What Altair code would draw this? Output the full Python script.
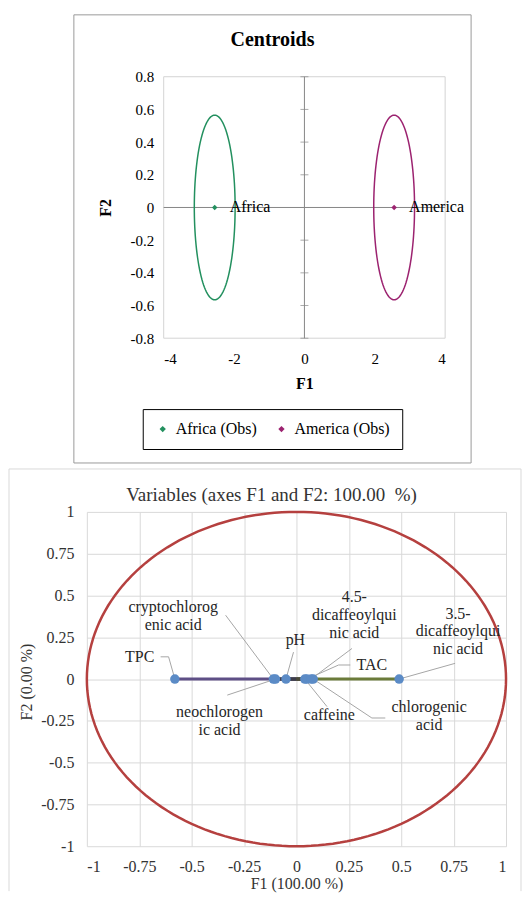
import altair as alt
import pandas as pd

SERIF = "Liberation Serif"

# ---------------- Top chart: Centroids ----------------
top_title = "Centroids"
groups = ["Africa", "America"]
group_legend = ["Africa (Obs)", "America (Obs)"]
centroid_f1 = [-2.55, 2.55]
centroid_f2 = [0.0, 0.0]
ellipse_rx = [0.58, 0.58]
ellipse_ry = [0.565, 0.565]
group_colors = ["#23905f", "#9c2370"]
top_x_ticks = [-4, -2, 0, 2, 4]
top_y_ticks = [-0.8, -0.6, -0.4, -0.2, 0, 0.2, 0.4, 0.6, 0.8]

# ---------------- Bottom chart: Variables ----------------
bottom_title = "Variables (axes F1 and F2: 100.00\u00a0 %)"
variables = ["TPC", "cryptochlorogenic acid", "neochlorogenic acid", "pH", "caffeine",
             "TAC", "4.5-dicaffeoylquinic acid", "chlorogenic acid", "3.5-dicaffeoylquinic acid"]
var_labels = ["TPC", "cryptochlorog\nenic acid", "neochlorogen\nic acid", "pH", "caffeine",
              "TAC", "4.5-\ndicaffeoylqui\nnic acid", "chlorogenic\nacid", "3.5-\ndicaffeoylqui\nnic acid"]
var_f1 = [-0.58, -0.11, -0.10, -0.05, 0.04, 0.05, 0.07, 0.08, 0.49]
var_f2 = [0, 0, 0, 0, 0, 0, 0, 0, 0]
label_f1 = [-0.748, -0.588, -0.367, -0.005, 0.157, 0.36, 0.276, 0.633, 0.771]
label_f2 = [0.133, 0.432, -0.195, 0.233, -0.215, 0.084, 0.491, -0.165, 0.392]
leader_f1 = [-0.648, -0.338, -0.33, -0.014, 0.146, 0.257, 0.265, 0.424, 0.757]
leader_f2 = [0.133, 0.382, -0.096, 0.161, -0.165, 0.084, 0.183, -0.233, 0.094]
elbow_f1 = [-0.61, -0.338, -0.33, -0.014, 0.146, 0.201, 0.265, 0.36, 0.757]
elbow_f2 = [0.133, 0.382, -0.096, 0.161, -0.165, 0.084, 0.183, -0.233, 0.094]
vector_colors = ["#5e4f86", "#3d3d4a", "#3d3d4a", "#3d3d4a", "#4a4a3a",
                 "#4a4a3a", "#4a4a3a", "#4a4a3a", "#6b7b3a"]
bottom_ticks = [-1, -0.75, -0.5, -0.25, 0, 0.25, 0.5, 0.75, 1]

one = alt.Data(values=[{"k": 1}])

# ================= TOP =================
cent = pd.DataFrame({"group": groups, "legend": group_legend,
                     "F1": centroid_f1, "F2": centroid_f2})

xs_t = alt.Scale(domain=[top_x_ticks[0], top_x_ticks[-1]], range=[77, 359], nice=False, zero=False)
ys_t = alt.Scale(domain=[top_y_ticks[0], top_y_ticks[-1]], nice=False, zero=False)

ax_t = alt.Axis(values=top_x_ticks, labelExpr="'' + datum.value", grid=False, ticks=False,
                domain=False, labelFont=SERIF, labelFontSize=15, labelColor="black",
                labelPadding=13, title="F1", titleFont=SERIF, titleFontSize=16,
                titleFontWeight="bold", titleColor="black", titleX=218, titleY=45,
                titleBaseline="middle", titleAlign="center")
ay_t = alt.Axis(values=top_y_ticks, labelExpr="'' + datum.value", grid=False, ticks=False,
                domain=False, offset=-77, labelFont=SERIF, labelFontSize=15,
                labelColor="black", labelPadding=10, title="F2", titleFont=SERIF,
                titleFontSize=16, titleFontWeight="bold", titleColor="black",
                titleX=-58, titleY=131, titleBaseline="middle", titleAlign="center")

def tx(field="F1:Q"):
    return alt.X(field, scale=xs_t, axis=ax_t)

def ty(field="F2:Q"):
    return alt.Y(field, scale=ys_t, axis=ay_t)

top_frame = alt.Chart(one).mark_rect(fillOpacity=0, stroke="#9a9a9a", strokeWidth=1).encode(
    x=alt.value(-13), x2=alt.value(385), y=alt.value(-62), y2=alt.value(387))

top_title_mark = alt.Chart(alt.Data(values=[{"t": top_title}])).mark_text(
    font=SERIF, fontSize=20, fontWeight="bold", color="black", align="center",
    baseline="alphabetic").encode(x=alt.value(186), y=alt.value(-31), text="t:N")

plot_border = alt.Chart(one).mark_rect(fillOpacity=0, stroke="#d4d4d4", strokeWidth=1).encode(
    x=alt.X(datum=top_x_ticks[0], scale=xs_t, axis=ax_t, type="quantitative"),
    x2=alt.datum(top_x_ticks[-1]),
    y=alt.Y(datum=top_y_ticks[0], scale=ys_t, axis=ay_t, type="quantitative"),
    y2=alt.datum(top_y_ticks[-1]))

zero_v = alt.Chart(one).mark_rule(color="#868686", strokeWidth=1).encode(
    x=alt.X(datum=0, scale=xs_t, axis=ax_t, type="quantitative"),
    y=alt.Y(datum=top_y_ticks[0], scale=ys_t, axis=ay_t, type="quantitative"),
    y2=alt.datum(top_y_ticks[-1]))
zero_h = alt.Chart(one).mark_rule(color="#868686", strokeWidth=1).encode(
    y=alt.Y(datum=0, scale=ys_t, axis=ay_t, type="quantitative"),
    x=alt.X(datum=top_x_ticks[0], scale=xs_t, axis=ax_t, type="quantitative"),
    x2=alt.datum(top_x_ticks[-1]))

zero_ticks = alt.Chart(pd.DataFrame({"v": top_y_ticks})).mark_tick(
    orient="horizontal", size=8, thickness=1, color="#868686").encode(
    x=alt.X(datum=0, scale=xs_t, axis=ax_t, type="quantitative"),
    y=ty("v:Q"))

ellipses = []
for cx, cy, rx, ry, col in zip(centroid_f1, centroid_f2, ellipse_rx, ellipse_ry, group_colors):
    ellipses.append(
        alt.Chart(alt.sequence(0, 361, 3, as_="t")).transform_calculate(
            F1=f"{cx} + {rx} * cos(datum.t * PI / 180)",
            F2=f"{cy} + {ry} * sin(datum.t * PI / 180)",
        ).mark_line(color=col, strokeWidth=1.5).encode(x=tx(), y=ty(), order="t:Q")
    )

cent_pts = alt.Chart(cent).mark_point(shape="diamond", filled=True, size=30, opacity=1).encode(
    x=tx(), y=ty(),
    color=alt.Color("legend:N",
                    scale=alt.Scale(domain=group_legend, range=group_colors),
                    legend=alt.Legend(orient="none", legendX=56, legendY=333,
                                      direction="horizontal", title=None,
                                      strokeColor="black", fillColor="white", padding=12,
                                      columnPadding=16, labelFont=SERIF, labelFontSize=16,
                                      labelColor="black", symbolType="diamond",
                                      symbolSize=40, labelOffset=5, labelLimit=300)))

cent_lbl = alt.Chart(cent).mark_text(align="left", baseline="middle", dx=15, font=SERIF,
                                     fontSize=16, color="black").encode(
    x=tx(), y=ty(), text="group:N")

top = alt.layer(top_frame, top_title_mark, plot_border, zero_h, zero_v, zero_ticks, *ellipses,
                cent_pts, cent_lbl).properties(width=359, height=262)

# ================= BOTTOM =================
vars_df = pd.DataFrame({"var": variables, "label": var_labels, "F1": var_f1, "F2": var_f2,
                        "lx": label_f1, "ly": label_f2, "ax": leader_f1, "ay": leader_f2,
                        "ex": elbow_f1, "ey": elbow_f2, "zero": [0] * len(variables)})

xs_b = alt.Scale(domain=[-1, 1], nice=False, zero=False)
ys_b = alt.Scale(domain=[-1, 1], nice=False, zero=False)
ax_b = alt.Axis(values=bottom_ticks, labelExpr="'' + datum.value", grid=True, gridColor="#d9d9d9",
                ticks=False, domain=False, labelFont=SERIF, labelFontSize=16, labelColor="#333333",
                labelPadding=12, title="F1 (100.00 %)", titleFont=SERIF, titleFontSize=16,
                titleFontWeight="normal", titleColor="#333333", titleX=210, titleY=37,
                titleBaseline="middle", titleAlign="center")
ay_b = alt.Axis(values=bottom_ticks, labelExpr="'' + datum.value", grid=True, gridColor="#d9d9d9",
                ticks=False, domain=False, labelFont=SERIF, labelFontSize=16, labelColor="#333333",
                labelPadding=13, title="F2 (0.00 %)", titleFont=SERIF, titleFontSize=16,
                titleFontWeight="normal", titleColor="#333333", titleX=-60, titleY=170,
                titleBaseline="middle", titleAlign="center")

def bx(field):
    return alt.X(field, scale=xs_b, axis=ax_b)

def by(field):
    return alt.Y(field, scale=ys_b, axis=ay_b)

bf_col = "#d9d9d9"
b_left = alt.Chart(one).mark_rule(color=bf_col).encode(
    x=alt.value(-78), y=alt.value(-43), y2=alt.value(380))
b_top = alt.Chart(one).mark_rule(color=bf_col).encode(
    x=alt.value(-78), x2=alt.value(435), y=alt.value(-43))
b_right = alt.Chart(one).mark_rule(color=bf_col).encode(
    x=alt.value(435), y=alt.value(-43), y2=alt.value(380))

bottom_title_mark = alt.Chart(alt.Data(values=[{"t": bottom_title}])).mark_text(
    font=SERIF, fontSize=19, color="#333333", align="center",
    baseline="alphabetic").encode(x=alt.value(185), y=alt.value(-11), text="t:N")

circle = alt.Chart(alt.sequence(0, 361, 2, as_="t")).transform_calculate(
    cx="cos(datum.t * PI / 180)", cy="sin(datum.t * PI / 180)"
).mark_line(color="#b5403f", strokeWidth=2.5).encode(x=bx("cx:Q"), y=by("cy:Q"), order="t:Q")

vectors = alt.Chart(vars_df).transform_calculate(abs_f1="abs(datum.F1)").mark_rule(
    strokeWidth=3).encode(
    x=bx("zero:Q"), x2="F1:Q", y=by("F2:Q"),
    stroke=alt.Stroke("var:N", scale=alt.Scale(domain=variables, range=vector_colors), legend=None),
    order=alt.Order("abs_f1:Q", sort="descending"))

lead1 = alt.Chart(vars_df).mark_rule(color="#a6a6a6", strokeWidth=1).encode(
    x=bx("ax:Q"), y=by("ay:Q"), x2="ex:Q", y2="ey:Q")
lead2 = alt.Chart(vars_df).mark_rule(color="#a6a6a6", strokeWidth=1).encode(
    x=bx("ex:Q"), y=by("ey:Q"), x2="F1:Q", y2="F2:Q")

pts = alt.Chart(vars_df).mark_circle(size=90, color="#5b8bc6", opacity=1).encode(
    x=bx("F1:Q"), y=by("F2:Q"))

lbls = alt.Chart(vars_df).mark_text(font=SERIF, fontSize=16, color="#262626", align="center",
                                    baseline="middle", lineBreak="\n", lineHeight=18).encode(
    x=bx("lx:Q"), y=by("ly:Q"), text="label:N")

bottom = alt.layer(b_left, b_top, b_right, bottom_title_mark, circle, vectors, lead1, lead2,
                   pts, lbls).properties(width=420, height=335)

chart = alt.vconcat(top, bottom, spacing=4).resolve_scale(
    color="independent", stroke="independent", x="independent", y="independent"
).configure_view(strokeWidth=0).properties(
    padding={"left": 0, "top": 5, "right": 0, "bottom": 0})

chart.save("out.html", embed_options={"renderer": "svg", "actions": False})
